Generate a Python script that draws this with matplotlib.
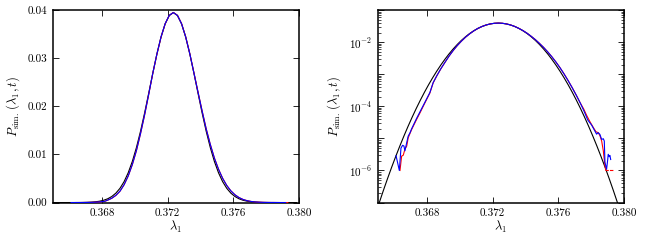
import numpy as np
import matplotlib
matplotlib.use("Agg")
import matplotlib.pyplot as plt
from matplotlib import ticker

plt.rcParams.update({
    "font.family": "serif",
    "font.serif": ["cmr10"],
    "mathtext.fontset": "cm",
    "axes.unicode_minus": False,
    "axes.formatter.use_mathtext": True,
    "font.size": 8,
})

# Gaussian approximation (black curve)
lam_theory = [0.36485, 0.36510, 0.36535, 0.36560, 0.36585, 0.36610, 0.36635, 0.36660,
              0.36685, 0.36710, 0.36735, 0.36760, 0.36785, 0.36810, 0.36835, 0.36860,
              0.36885, 0.36910, 0.36935, 0.36960, 0.36985, 0.37010, 0.37035, 0.37060,
              0.37085, 0.37110, 0.37135, 0.37160, 0.37185, 0.37210, 0.37235, 0.37260,
              0.37285, 0.37310, 0.37335, 0.37360, 0.37385, 0.37410, 0.37435, 0.37460,
              0.37485, 0.37510, 0.37535, 0.37560, 0.37585, 0.37610, 0.37635, 0.37660,
              0.37685, 0.37710, 0.37735, 0.37760, 0.37785, 0.37810, 0.37835, 0.37860,
              0.37885, 0.37910, 0.37935, 0.37960, 0.37985]
p_half = [4.038e-8, 9.975e-8, 2.389e-7, 5.551e-7, 1.251e-6, 2.732e-6, 5.789e-6, 1.190e-5,
          2.372e-5, 4.584e-5, 8.594e-5, 1.562e-4, 2.755e-4, 4.710e-4, 7.810e-4, 1.256e-3,
          1.959e-3, 2.962e-3, 4.346e-3, 6.184e-3, 8.531e-3, 1.142e-2, 1.481e-2, 1.864e-2,
          2.275e-2, 2.693e-2, 3.091e-2, 3.441e-2, 3.715e-2, 3.889e-2]
p_theory = p_half + [3.950e-2] + p_half[::-1]

# simulation run 1 (red)
lam_red = [0.36636, 0.36646, 0.36656, 0.36666, 0.36677, 0.36686, 0.36707, 0.36737,
           0.36758, 0.36788, 0.36818, 0.36838, 0.36860, 0.36885, 0.36910, 0.36935,
           0.36960, 0.36985, 0.37010, 0.37035, 0.37060, 0.37085, 0.37110, 0.37135,
           0.37160, 0.37185, 0.37210, 0.37235, 0.37260, 0.37285, 0.37310, 0.37335,
           0.37360, 0.37385, 0.37410, 0.37435, 0.37460, 0.37485, 0.37510, 0.37535,
           0.37560, 0.37585, 0.37610, 0.37635, 0.37660, 0.37685, 0.37710, 0.37735,
           0.37755, 0.37772, 0.37793, 0.37813, 0.37829, 0.37843, 0.37853, 0.37864,
           0.37874, 0.37884, 0.37890, 0.37904, 0.37910, 0.37918, 0.37932]
p_red = [1.0e-6, 2.8e-6, 3.0e-6, 4.6e-6, 5.8e-6, 1.05e-5, 1.9e-5, 3.9e-5,
         6.3e-5, 1.29e-4, 2.6e-4, 5.4e-4, 8.89e-4, 1.486e-3, 2.355e-3, 3.698e-3,
         5.508e-3, 7.870e-3, 1.078e-2, 1.431e-2, 1.822e-2, 2.249e-2, 2.690e-2, 3.088e-2,
         3.440e-2, 3.716e-2, 3.891e-2, 3.952e-2, 3.892e-2, 3.720e-2, 3.447e-2, 3.098e-2,
         2.702e-2, 2.301e-2, 1.908e-2, 1.533e-2, 1.209e-2, 9.247e-3, 6.937e-3, 5.048e-3,
         3.562e-3, 2.438e-3, 1.618e-3, 1.030e-3, 6.353e-4, 3.804e-4, 2.207e-4, 1.242e-4,
         8.2e-5, 5.3e-5, 3.3e-5, 2.2e-5, 1.62e-5, 1.51e-5, 1.24e-5, 8.3e-6,
         4.1e-6, 1.4e-6, 1.0e-6, 1.0e-6, 0.0, 1.0e-6, 1.0e-6]

# simulation run 2 (blue)
lam_blue = [0.36612, 0.36632, 0.36642, 0.36652, 0.36660, 0.36666, 0.36677, 0.36686,
            0.36697, 0.36707, 0.36737, 0.36758, 0.36788, 0.36818, 0.36838, 0.36860,
            0.36885, 0.36910, 0.36935, 0.36960, 0.36985, 0.37010, 0.37035, 0.37060,
            0.37085, 0.37110, 0.37135, 0.37160, 0.37185, 0.37210, 0.37235, 0.37260,
            0.37285, 0.37310, 0.37335, 0.37360, 0.37385, 0.37410, 0.37435, 0.37460,
            0.37485, 0.37510, 0.37535, 0.37560, 0.37585, 0.37610, 0.37635, 0.37660,
            0.37685, 0.37710, 0.37735, 0.37755, 0.37780, 0.37803, 0.37823, 0.37833,
            0.37843, 0.37853, 0.37864, 0.37874, 0.37880, 0.37884, 0.37894, 0.37900,
            0.37904, 0.37910, 0.37914, 0.37919]
p_blue = [2.9e-6, 1.0e-6, 5.0e-6, 6.1e-6, 5.8e-6, 4.1e-6, 7.4e-6, 1.18e-5,
          1.5e-5, 2.0e-5, 4.2e-5, 6.8e-5, 1.35e-4, 2.7e-4, 5.5e-4, 9.0e-4,
          1.50e-3, 2.37e-3, 3.71e-3, 5.53e-3, 7.90e-3, 1.081e-2, 1.434e-2, 1.826e-2,
          2.252e-2, 2.694e-2, 3.091e-2, 3.444e-2, 3.719e-2, 3.893e-2, 3.950e-2, 3.890e-2,
          3.717e-2, 3.445e-2, 3.096e-2, 2.700e-2, 2.298e-2, 1.905e-2, 1.530e-2, 1.206e-2,
          9.22e-3, 6.92e-3, 5.03e-3, 3.55e-3, 2.43e-3, 1.61e-3, 1.025e-3, 6.31e-4,
          3.78e-4, 2.19e-4, 1.23e-4, 7.4e-5, 3.7e-5, 2.6e-5, 1.69e-5, 1.36e-5,
          1.51e-5, 1.34e-5, 9.3e-6, 9.8e-6, 8.3e-6, 1.8e-6, 1.1e-6, 2.0e-6,
          3.2e-6, 2.7e-6, 2.95e-6, 2.2e-6]

x_ticks = [0.368, 0.372, 0.376, 0.380]
y_ticks_lin = [0.00, 0.01, 0.02, 0.03, 0.04]

fig = plt.figure(figsize=(6.5, 2.42), dpi=100)
ax1 = fig.add_axes([0.081, 0.163, 0.379, 0.795])
ax2 = fig.add_axes([0.581, 0.163, 0.379, 0.795])

for ax in (ax1, ax2):
    ax.plot(lam_theory, p_theory, color="black", lw=0.8, zorder=2)
    ax.plot(lam_red, p_red, color="red", lw=0.8, zorder=3)
    ax.plot(lam_blue, p_blue, color="blue", lw=0.8, zorder=4)
    ax.set_xlim(0.365, 0.380)
    ax.set_xticks(x_ticks)
    ax.xaxis.set_major_formatter(ticker.FormatStrFormatter("%.3f"))
    ax.set_xlabel(r"$\lambda_1$", fontsize=9, labelpad=1)
    ax.set_ylabel(r"$P_{\rm sim.}\,(\lambda_1,t)$", fontsize=9)
    ax.tick_params(which="both", direction="in", top=True, right=True)
    ax.tick_params(which="major", length=4.5, width=0.6, pad=4)
    ax.tick_params(which="minor", length=2, width=0.5)
    for s in ax.spines.values():
        s.set_linewidth(1.1)

ax1.set_ylim(0, 0.04)
ax1.set_yticks(y_ticks_lin)
ax1.yaxis.set_major_formatter(ticker.FormatStrFormatter("%.2f"))

ax2.set_yscale("log", nonpositive="mask")
ax2.set_ylim(1e-7, 1e-1)
ax2.yaxis.set_major_locator(ticker.LogLocator(base=10, numticks=20))
ax2.yaxis.set_minor_locator(ticker.LogLocator(base=10, subs=np.arange(2, 10), numticks=20))
ax2.yaxis.set_major_formatter(ticker.FuncFormatter(
    lambda v, p: r"$10^{%d}$" % round(np.log10(v)) if round(np.log10(v)) in (-2, -4, -6) else ""))

fig.savefig("out.png", dpi=100)
